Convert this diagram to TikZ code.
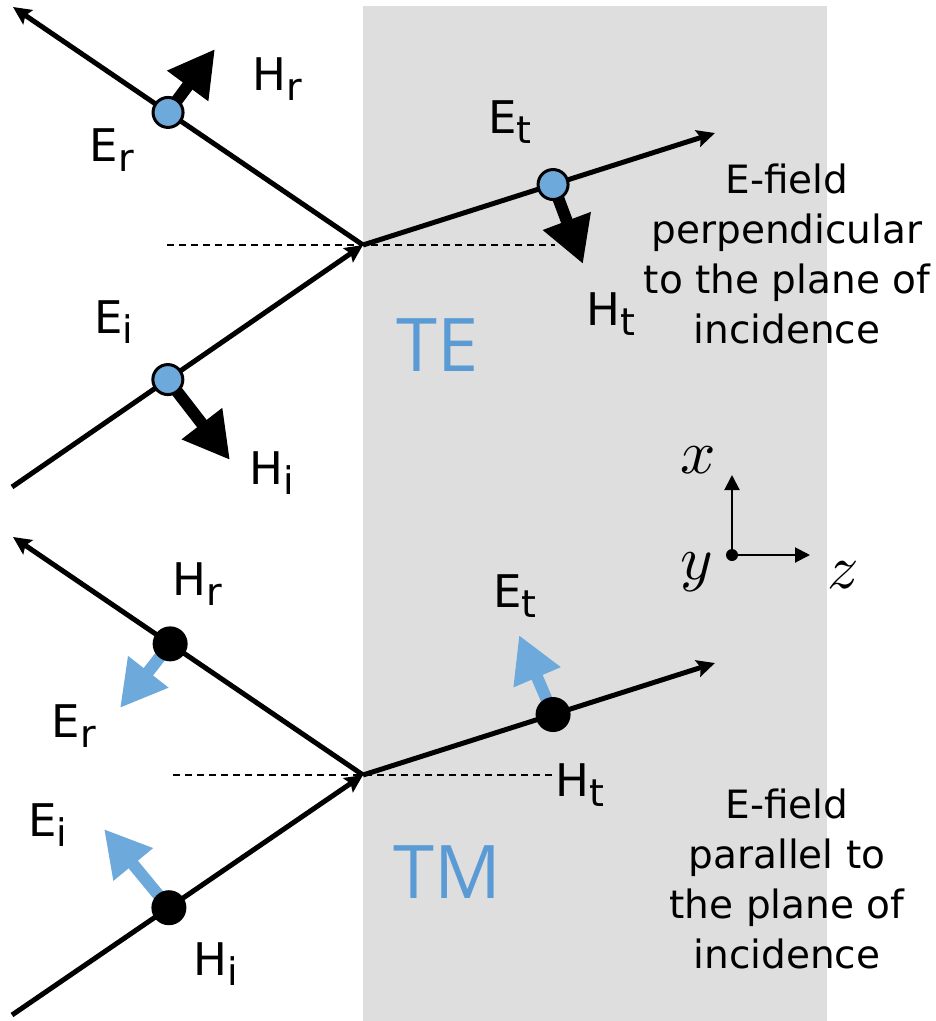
\documentclass[tikz,border=0pt]{standalone}
\usepackage{fontspec}
\setmainfont{DejaVu Sans}
\newfontfamily\tefont{Open Sans}
\usetikzlibrary{arrows.meta,calc}
\definecolor{slab}{HTML}{DEDEDE}
\definecolor{ebl}{HTML}{6DA9DB}
\definecolor{tcol}{HTML}{5B9BD5}
\newcommand{\fl}[2]{#1\raisebox{-0.22em}{\fontsize{38}{38}\selectfont #2}}
\tikzset{
  ray/.style={line width=5pt,-{Stealth[length=18pt,width=17pt,inset=3pt]}},
  refl/.style={dashed,line width=1.5pt,dash pattern=on 7pt off 5pt},
  bigarrow/.style={line width=12pt,-{Triangle[length=46pt,width=48pt]}},
  bluedot/.style={circle,fill=ebl,draw=black,line width=3pt,minimum size=30pt,inner sep=0pt},
  blackdot/.style={circle,fill=black,minimum size=35pt,inner sep=0pt},
  lbl/.style={font=\fontsize{45}{54}\selectfont,inner sep=0pt},
  modelbl/.style={font=\tefont\fontsize{74}{80}\selectfont,text=tcol,inner sep=0pt},
  blockt/.style={font=\fontsize{39}{50}\selectfont,align=center,inner sep=0pt,anchor=north},
  axis/.style={line width=2pt,-{Triangle[length=15pt,width=15pt]}},
}
\begin{document}
\begin{tikzpicture}[x=1pt,y=-1pt]
\useasboundingbox (0,0) rectangle (936,1021);
\fill[slab] (363,6) rectangle (827,1021);

% ---------------- TE ----------------
\coordinate (P1) at (363,245);
\coordinate (iS1) at (12,487);
\coordinate (rE1) at (13,7);
\coordinate (tE1) at (715,133);
\coordinate (dS1) at (167,245);
\coordinate (dE1) at (555,245);
\draw[refl] (dS1) -- (dE1);
\draw[ray] (iS1) -- (P1);
\draw[ray] (P1) -- (rE1);
\draw[ray] (P1) -- (tE1);
\coordinate (dr1) at ($(P1)!0.557!(rE1)$);
\coordinate (di1) at ($(iS1)!0.444!(P1)$);
\coordinate (dt1) at ($(P1)!0.54!(tE1)$);
\coordinate (hr1) at (215,49);
\coordinate (hi1) at (230,460);
\coordinate (ht1) at (583,264);
\draw[bigarrow] (dr1) -- (hr1);
\draw[bigarrow] (di1) -- (hi1);
\draw[bigarrow] (dt1) -- (ht1);
\node[bluedot] (Dr1) at (dr1) {};
\node[bluedot] (Di1) at (di1) {};
\node[bluedot] (Dt1) at (dt1) {};
\node[lbl] (Hr1) at (277,79) {\fl{H}{r}};
\node[lbl] (Er1) at (112,150) {\fl{E}{r}};
\node[lbl] (Et1) at (510,122) {\fl{E}{t}};
\node[lbl] (Ht1) at (611,314) {\fl{H}{t}};
\node[lbl] (Ei1) at (114,322) {\fl{E}{i}};
\node[lbl] (Hi1) at (272,473) {\fl{H}{i}};
\node[modelbl] (TE) at (438,345) {TE};
\node[blockt] (txt1) at (787,164) {E-field\\perpendicular\\to the plane of\\incidence};

% ---------------- TM ----------------
\coordinate (P2) at (363,775);
\coordinate (iS2) at (12,1015);
\coordinate (rE2) at (13,537);
\coordinate (tE2) at (715,663);
\coordinate (dS2) at (173,775);
\coordinate (dE2) at (555,775);
\draw[refl] (dS2) -- (dE2);
\draw[ray] (iS2) -- (P2);
\draw[ray] (P2) -- (rE2);
\draw[ray] (P2) -- (tE2);
\coordinate (dr2) at ($(P2)!0.551!(rE2)$);
\coordinate (di2) at ($(iS2)!0.447!(P2)$);
\coordinate (dt2) at ($(P2)!0.54!(tE2)$);
\coordinate (er2) at (120,708);
\coordinate (ei2) at (104,829);
\coordinate (et2) at (519,635);
\draw[bigarrow,ebl] (dr2) -- (er2);
\draw[bigarrow,ebl] (di2) -- (ei2);
\draw[bigarrow,ebl] (dt2) -- (et2);
\node[blackdot] (Dr2) at (dr2) {};
\node[blackdot] (Di2) at (di2) {};
\node[blackdot] (Dt2) at (dt2) {};
\node[lbl] (Hr2) at (197,584) {\fl{H}{r}};
\node[lbl] (Er2) at (74,726) {\fl{E}{r}};
\node[lbl] (Et2) at (515,596) {\fl{E}{t}};
\node[lbl] (Ht2) at (580,785) {\fl{H}{t}};
\node[lbl] (Ei2) at (48,825) {\fl{E}{i}};
\node[lbl] (Hi2) at (216,964) {\fl{H}{i}};
\node[modelbl] (TM) at (447,872) {TM};
\node[blockt] (txt2) at (787,789) {E-field\\parallel to\\the plane of\\incidence};

% ---------------- axes ----------------
\coordinate (O) at (732,555);
\coordinate (Xt) at (732,475);
\coordinate (Zt) at (810,555);
\draw[axis] (O) -- (Xt);
\draw[axis] (O) -- (Zt);
\fill (O) circle (6pt);
\node[scale=6.2,inner sep=0pt] (xl) at (698,460) {$x$};
\node[scale=6.2,inner sep=0pt] (yl) at (697,572) {$y$};
\node[scale=6.2,inner sep=0pt] (zl) at (843,575) {$z$};
\end{tikzpicture}
\end{document}
